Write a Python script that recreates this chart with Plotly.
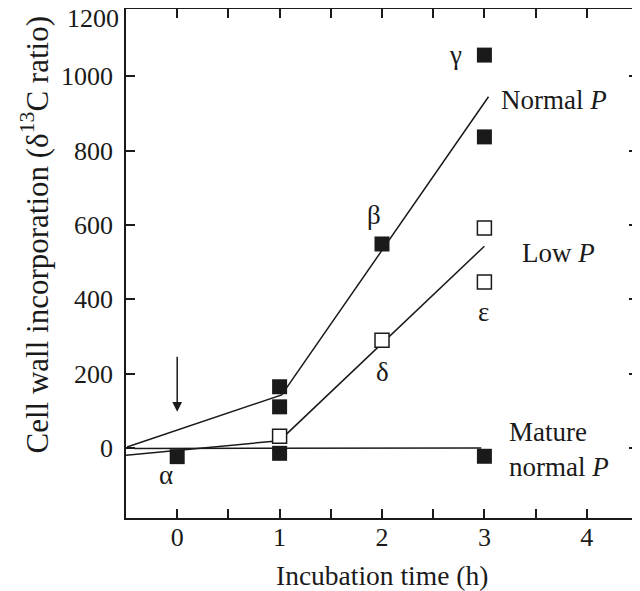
import plotly.graph_objects as go

# measured points (filled = normal / mature normal P, open = low P)
filled_x = [0, 1, 1, 1, 2, 3, 3, 3]
filled_y = [-23, 165, 111, -14, 549, 1057, 837, -22]
open_x = [1, 2, 3, 3]
open_y = [32, 290, 592, 447]

# fitted lines
normal_line_x = [-0.49, 1.02, 3.04]
normal_line_y = [3, 143, 945]
low_line_x = [-0.5, 1.0, 3.0]
low_line_y = [-19, 20, 543]
mature_line_x = [-0.42, 2.97]
mature_line_y = [-1, 0]

# tick labels
x_ticks = [-0.5, 0, 0.5, 1, 1.5, 2, 2.5, 3, 3.5, 4, 4.5]
x_ticktext = ['', '0', '', '1', '', '2', '', '3', '', '4', '']
y_ticks = [0, 200, 400, 600, 800, 1000]
y_top_tick = [1200]  # drawn just under the frame, as in the original

# point / line labels
labels = [
    {'text': 'α', 'x': -0.11, 'y': -73, 'xanchor': 'center'},
    {'text': 'β', 'x': 1.92, 'y': 627, 'xanchor': 'center'},
    {'text': 'γ', 'x': 2.72, 'y': 1057, 'xanchor': 'center'},
    {'text': 'δ', 'x': 2.0, 'y': 205, 'xanchor': 'center'},
    {'text': 'ε', 'x': 2.99, 'y': 367, 'xanchor': 'center'},
    {'text': 'Normal <i>P</i>', 'x': 3.14, 'y': 936, 'xanchor': 'left'},
    {'text': 'Low <i>P</i>', 'x': 3.35, 'y': 525, 'xanchor': 'left'},
    {'text': 'Mature<br>normal <i>P</i>', 'x': 3.22, 'y': -5, 'xanchor': 'left'},
]

FONT = 'Liberation Serif, Times New Roman, serif'
INK = '#1a1a1a'

fig = go.Figure()

for lx, ly in [(normal_line_x, normal_line_y), (low_line_x, low_line_y), (mature_line_x, mature_line_y)]:
    fig.add_trace(go.Scatter(x=lx, y=ly, mode='lines', line=dict(color=INK, width=1.5),
                             hoverinfo='skip'))

fig.add_trace(go.Scatter(
    x=filled_x, y=filled_y, mode='markers',
    marker=dict(symbol='square', size=15, color=INK, line=dict(width=0))
))
fig.add_trace(go.Scatter(
    x=open_x, y=open_y, mode='markers',
    marker=dict(symbol='square', size=14, color='white', line=dict(color=INK, width=1.5))
))
# empty trace so the second y axis (top label) gets drawn
fig.add_trace(go.Scatter(x=[None], y=[None], yaxis='y2', hoverinfo='skip'))

for lab in labels:
    fig.add_annotation(x=lab['x'], y=lab['y'], text=lab['text'], showarrow=False,
                       xanchor=lab['xanchor'], align='left',
                       font=dict(family=FONT, size=27, color=INK))

# arrow marking time zero
fig.add_annotation(x=0, y=98, ax=0, ay=250, axref='x', ayref='y', text='',
                   showarrow=True, arrowhead=2, arrowsize=1.3, arrowwidth=1.5, arrowcolor=INK)

# axis titles
fig.add_annotation(xref='paper', yref='paper', x=0, y=0.555, xshift=-91,
                   xanchor='center', yanchor='middle', textangle=-90, showarrow=False,
                   text='Cell wall incorporation (δ<sup>13</sup>C ratio)',
                   font=dict(family=FONT, size=31, color=INK))
fig.add_annotation(xref='paper', yref='paper', x=0.5, y=0, yshift=-57,
                   xanchor='center', yanchor='middle', showarrow=False,
                   text='Incubation time (h)',
                   font=dict(family=FONT, size=27.5, color=INK))

axis_common = dict(
    showline=True, linecolor=INK, linewidth=1.5, mirror='ticks',
    ticks='inside', ticklen=9, tickwidth=1.5, tickcolor=INK,
    showgrid=False, zeroline=False, automargin=False,
    tickfont=dict(family=FONT, size=26, color=INK),
)

fig.update_xaxes(range=[-0.5, 4.5], tickvals=x_ticks, ticktext=x_ticktext,
                 ticklabelstandoff=-5, **axis_common)
fig.update_yaxes(range=[-188, 1181], tickvals=y_ticks, ticklabelstandoff=6, **axis_common)

# the page adds an 8px body margin, so the figure is drawn 8px smaller
fig.update_layout(
    width=632, height=583,
    margin=dict(l=118, r=2, t=1, b=73),
    plot_bgcolor='white', paper_bgcolor='white',
    showlegend=False,
    font=dict(family=FONT, color=INK),
    yaxis2=dict(
        overlaying='y', side='left', range=[-145, 1224], tickvals=y_top_tick,
        showline=False, showgrid=False, zeroline=False, ticks='', automargin=False,
        ticklabelstandoff=6, ticklabeloverflow='allow',
        tickfont=dict(family=FONT, size=26, color=INK),
    ),
)

fig.write_html('out.html')
